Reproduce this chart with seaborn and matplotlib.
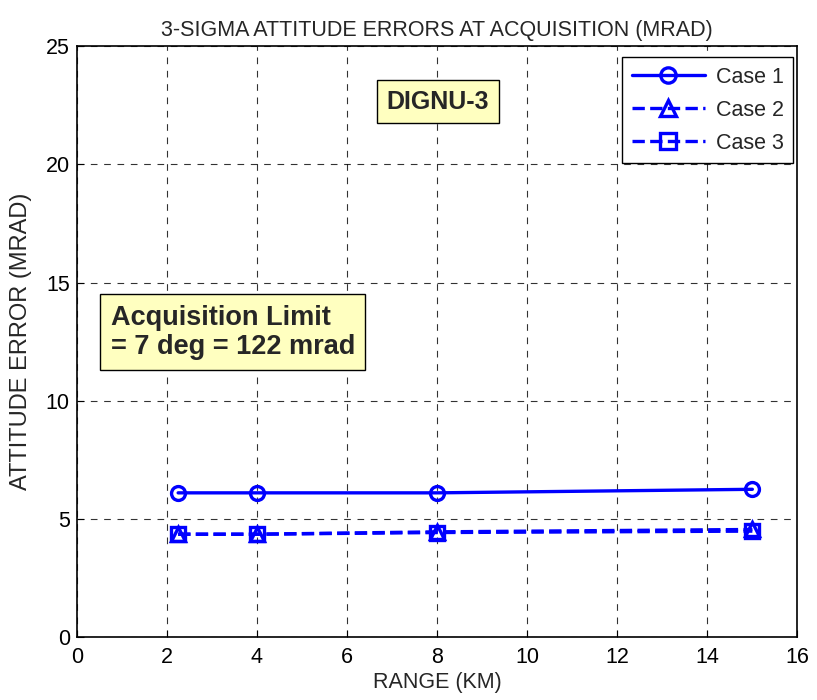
import matplotlib
matplotlib.use("Agg")
import matplotlib.pyplot as plt
import seaborn as sns
import pandas as pd

range_km = [2.25, 4, 8, 15]
case1 = [6.1, 6.1, 6.1, 6.25]
case2 = [4.35, 4.35, 4.45, 4.55]
case3 = [4.35, 4.35, 4.42, 4.48]
series_names = ["Case 1", "Case 2", "Case 3"]
x_ticks = [0, 2, 4, 6, 8, 10, 12, 14, 16]
y_ticks = [0, 5, 10, 15, 20, 25]

sns.set_style("ticks")
plt.rcParams["font.family"] = ["Liberation Sans", "DejaVu Sans"]

df = pd.concat([
    pd.DataFrame({"range": range_km, "err": vals, "case": name})
    for name, vals in zip(series_names, [case1, case2, case3])
])

fig = plt.figure(figsize=(8.17, 7.0), dpi=100)
ax = fig.add_axes([0.094, 0.09, 0.882, 0.844])

styles = {
    "Case 1": dict(ls="-", marker="o"),
    "Case 2": dict(ls="--", marker="^"),
    "Case 3": dict(ls="--", marker="s"),
}
for name in series_names:
    sub = df[df["case"] == name]
    st = styles[name]
    sns.lineplot(data=sub, x="range", y="err", ax=ax, color="#0000FF",
                 linestyle=st["ls"], marker=st["marker"], markersize=10,
                 markerfacecolor="none", markeredgecolor="#0000FF",
                 markeredgewidth=2.4, linewidth=2.4, label=name)

ax.set_xlim(0, 16)
ax.set_ylim(0, 25)
ax.set_xticks(x_ticks)
ax.set_yticks(y_ticks)
ax.tick_params(direction="in", length=5, labelsize=15.5, colors="black")
ax.tick_params(axis="x", pad=7)
ax.tick_params(axis="y", pad=5)
ax.grid(True, color="black", linestyle=(0, (6, 6)), linewidth=0.8, alpha=0.8)
for sp in ax.spines.values():
    sp.set_visible(True)
    sp.set_linewidth(1.2)
    sp.set_color("black")

ax.set_title("3-SIGMA ATTITUDE ERRORS AT ACQUISITION (MRAD)", fontsize=15.5, pad=7)
ax.set_xlabel("RANGE (KM)", fontsize=15.5, labelpad=3)
ax.set_ylabel("ATTITUDE ERROR (MRAD)", fontsize=17)
ax.yaxis.set_label_coords(-0.062, 0.5)

leg = ax.legend(loc="upper right", fontsize=15.5, frameon=True, fancybox=False,
                handlelength=3.4, borderpad=0.45, labelspacing=0.55,
                handletextpad=0.5, markerscale=1.1, borderaxespad=0,
                bbox_to_anchor=(0.9944, 0.9814))
leg.get_frame().set_edgecolor("black")
leg.get_frame().set_linewidth(1.0)
leg.get_frame().set_alpha(1.0)

box = dict(boxstyle="square,pad=0.38", facecolor="#FFFFC0", edgecolor="black", linewidth=1.0)
ax.text(8.02, 22.65, "DIGNU-3", fontsize=18, fontweight="bold", ha="center", va="center", bbox=box)
ax.text(0.75, 12.9, "Acquisition Limit\n= 7 deg = 122 mrad", fontsize=19.5, fontweight="bold",
        ha="left", va="center", linespacing=1.15, bbox=box)

fig.savefig("out.png", dpi=100)
